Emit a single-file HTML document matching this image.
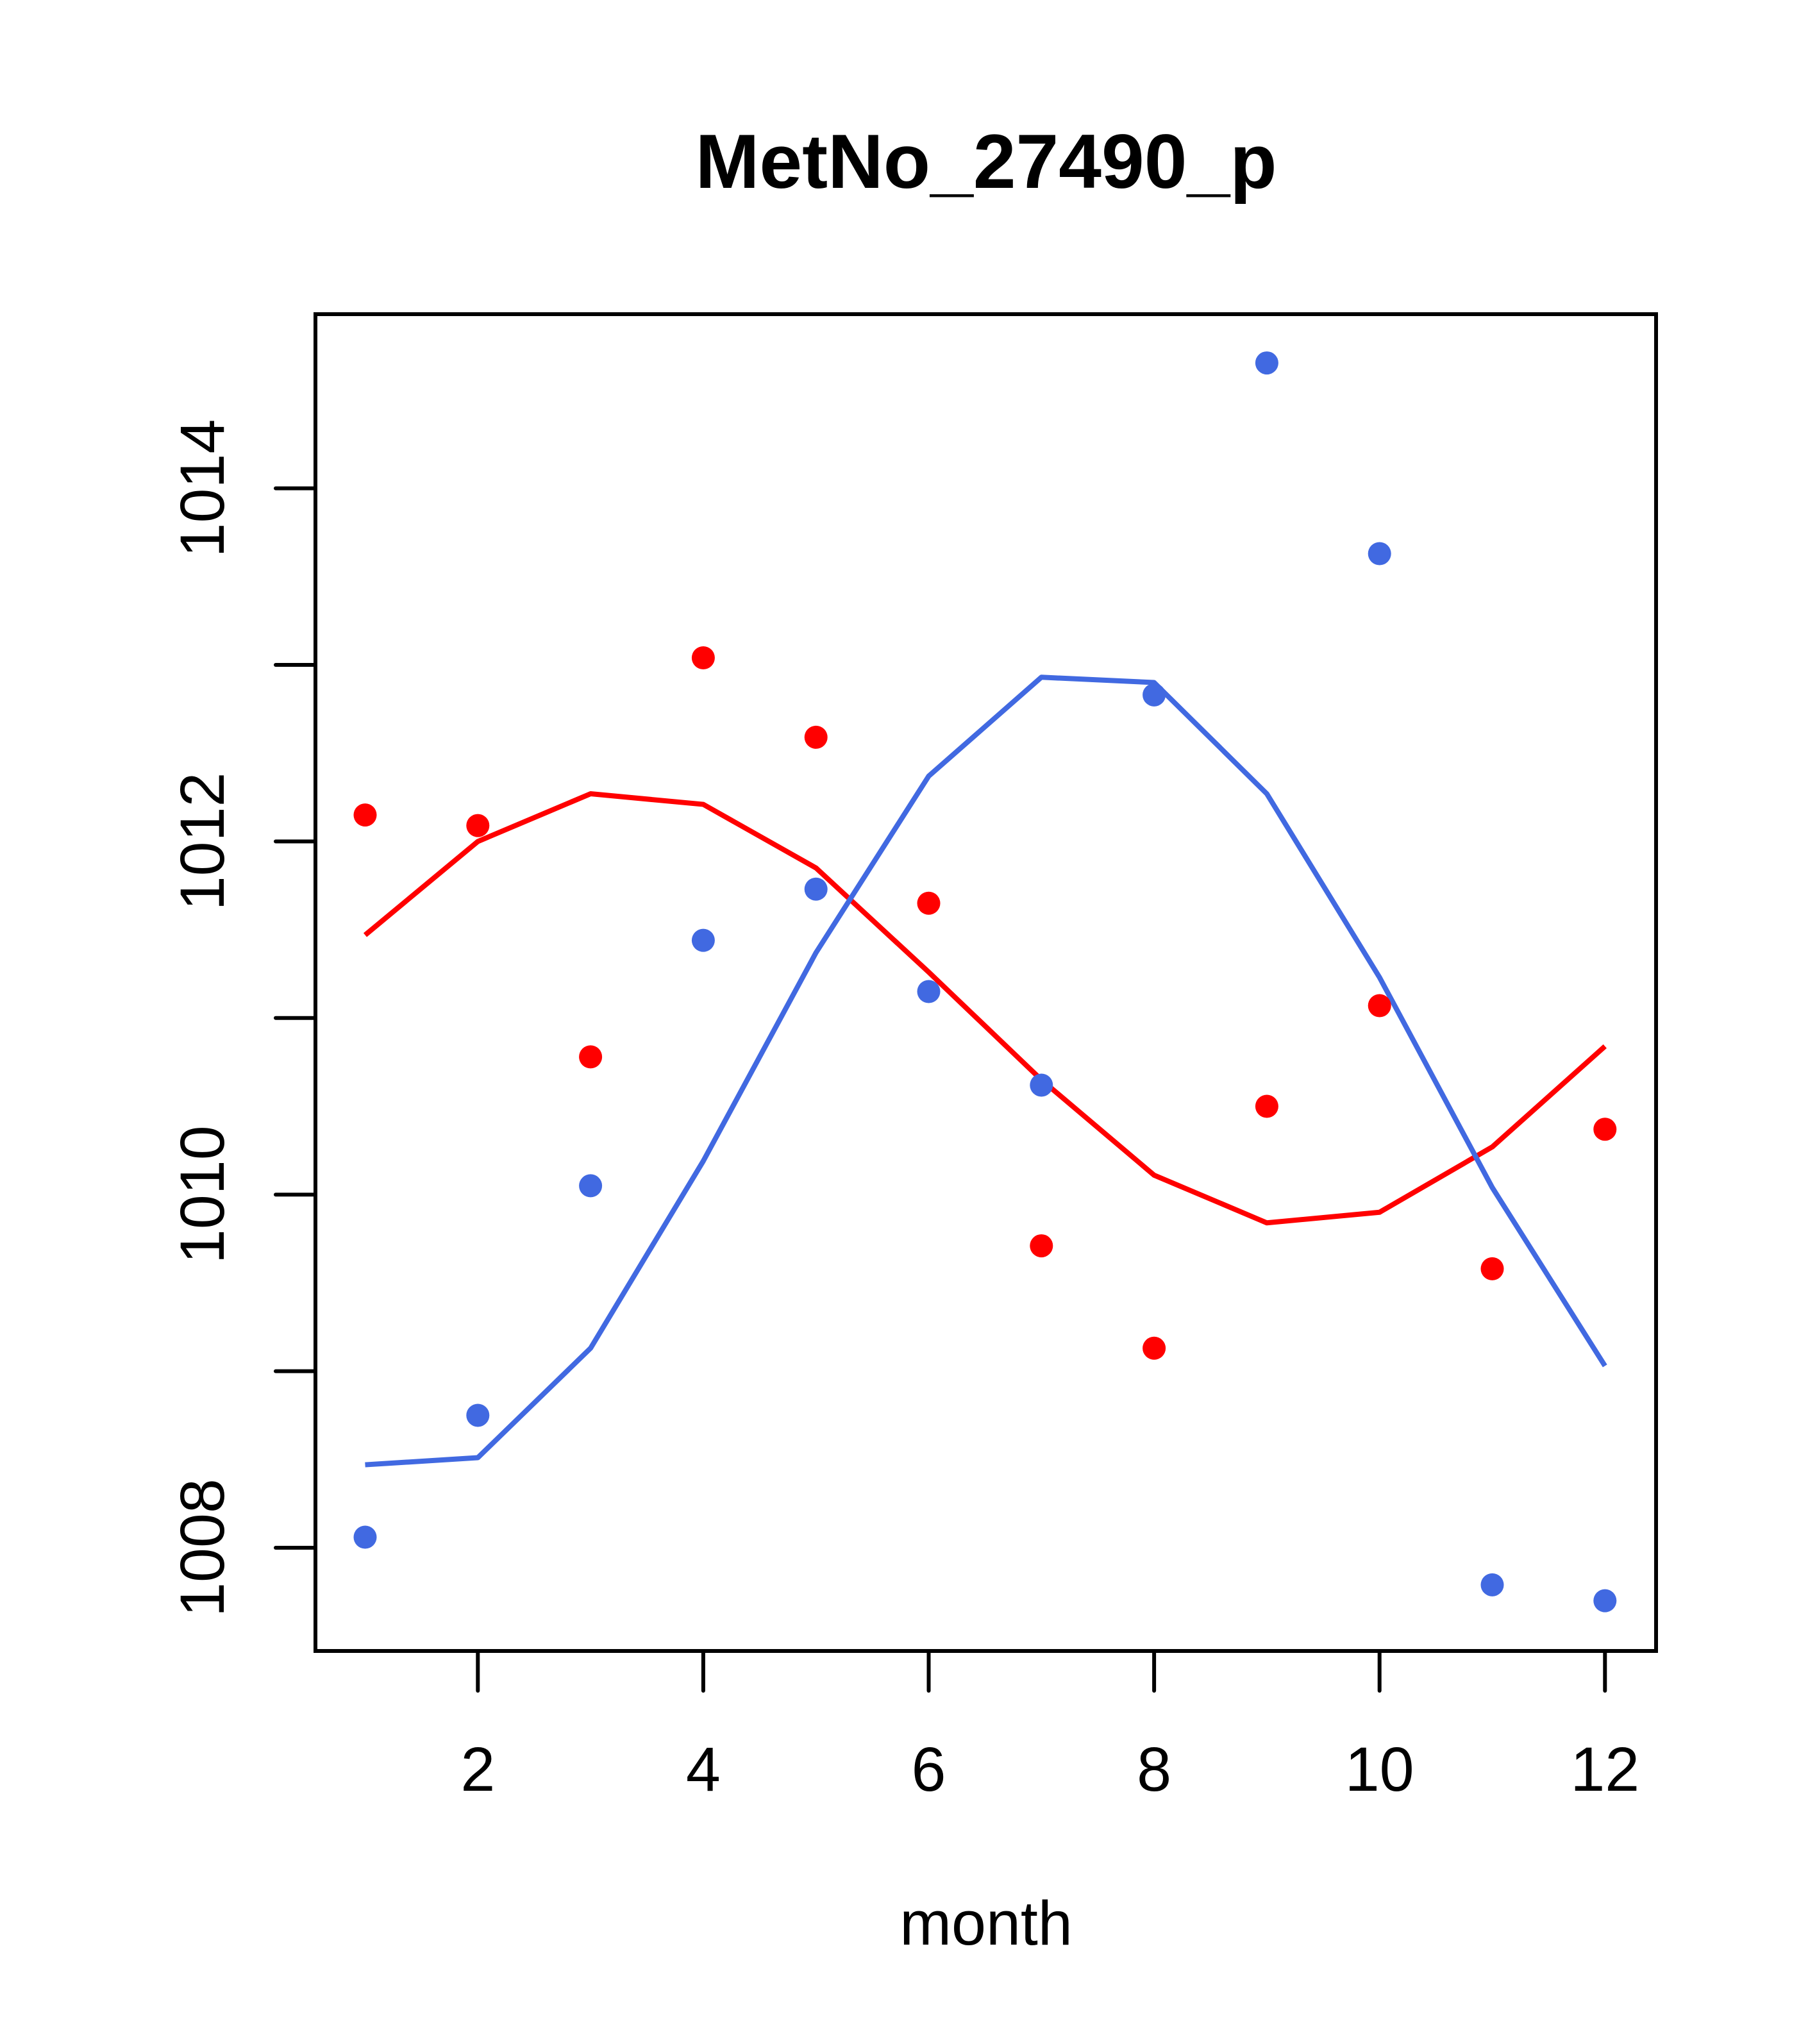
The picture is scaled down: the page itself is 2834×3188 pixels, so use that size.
<!DOCTYPE html>
<html><head><meta charset="utf-8"><style>html,body{margin:0;padding:0;background:#fff}svg{display:block}</style></head>
<body>
<svg width="2834" height="3188" viewBox="0 0 2834 3188" xmlns="http://www.w3.org/2000/svg" font-family="Liberation Sans, Arial, sans-serif">
<rect width="2834" height="3188" fill="#fff"/>
<text x="1538" y="293" font-size="120" font-weight="bold" text-anchor="middle">MetNo_27490_p</text>
<rect x="492" y="490" width="2091" height="2085" fill="none" stroke="#000" stroke-width="6"/>
<g id="xaxis"></g>
<g id="yaxis"></g>
<g id="series"></g>
<text x="1538" y="3033" font-size="97" text-anchor="middle">month</text>
</svg>
<script>
const months=[1,2,3,4,5,6,7,8,9,10,11,12];
const xTicks=[2,4,6,8,10,12];
const yTicks=[1008,1009,1010,1011,1012,1013,1014];
const yTickLabels=["1008","","1010","","1012","","1014"];
const redPoints=[1012.15,1012.09,1010.78,1013.04,1012.59,1011.65,1009.71,1009.13,1010.50,1011.07,1009.58,1010.37];
const redLine=[1011.47,1012.0,1012.27,1012.21,1011.85,1011.26,1010.65,1010.11,1009.84,1009.90,1010.27,1010.84];
const bluePoints=[1008.06,1008.75,1010.05,1011.44,1011.73,1011.15,1010.62,1012.83,1014.71,1013.63,1007.79,1007.70];
const blueLine=[1008.47,1008.51,1009.13,1010.19,1011.37,1012.37,1012.93,1012.90,1012.27,1011.23,1010.04,1009.03];
const NS="http://www.w3.org/2000/svg";
function X(m){return 569.5+(m-1)*175.8;}
function Y(v){return 2414-(v-1008)*275.4;}
function mk(t,a,p){const e=document.createElementNS(NS,t);for(const k in a)e.setAttribute(k,a[k]);p.appendChild(e);return e;}
const xa=document.getElementById('xaxis'),ya=document.getElementById('yaxis'),sg=document.getElementById('series');
xTicks.forEach(t=>{
 const l=mk('line',{x1:X(t),x2:X(t),y1:2575,y2:2637,stroke:'#000','stroke-width':6,'stroke-linecap':'round'},xa);
 
 
 const tx=mk('text',{x:X(t),y:2793,'font-size':97,'text-anchor':'middle'},xa);tx.textContent=String(t);
 
 
});
yTicks.forEach((t,i)=>{
 const l=mk('line',{x1:430,x2:492,y1:Y(t),y2:Y(t),stroke:'#000','stroke-width':6,'stroke-linecap':'round'},ya);
 
 
 if(yTickLabels[i]){
  const tx=mk('text',{x:349,y:Y(t),'font-size':97,'text-anchor':'middle',transform:`rotate(-90 349 ${Y(t)})`},ya);tx.textContent=yTickLabels[i];
  
  
 }
});
function line(vals,col,name){
 const p=mk('polyline',{points:vals.map((v,i)=>X(months[i])+','+Y(v)).join(' '),fill:'none',stroke:col,'stroke-width':8,'stroke-linejoin':'round'},sg);
 
 
}
function pts(vals,col,name){
 vals.forEach((v,i)=>{const c=mk('circle',{cx:X(months[i]),cy:Y(v),r:18,fill:col},sg);
 
 });
}
line(redLine,'#ff0000','red-line');
line(blueLine,'#4169e1','blue-line');
pts(redPoints,'#ff0000','red-point');
pts(bluePoints,'#4169e1','blue-point');
</script>
</body></html>
